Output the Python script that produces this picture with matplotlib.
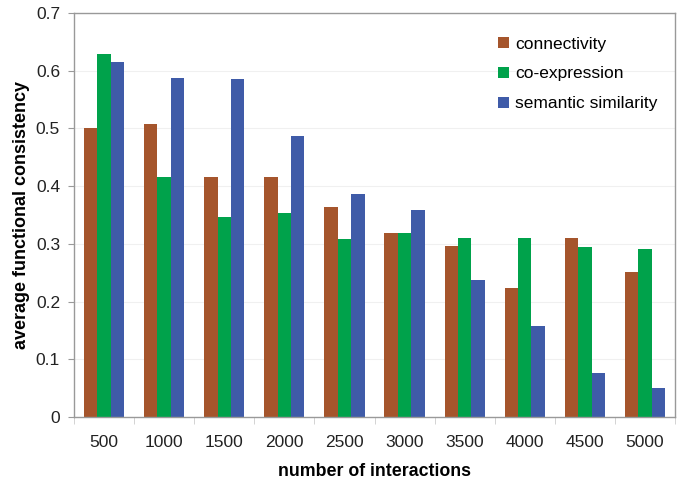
import numpy as np
import matplotlib.pyplot as plt

plt.rcParams['font.family'] = ['Liberation Sans', 'DejaVu Sans']

interactions = ['500', '1000', '1500', '2000', '2500', '3000', '3500', '4000', '4500', '5000']
connectivity = [0.501, 0.508, 0.416, 0.416, 0.363, 0.318, 0.297, 0.223, 0.311, 0.251]
coexpression = [0.629, 0.416, 0.347, 0.354, 0.308, 0.318, 0.311, 0.311, 0.294, 0.291]
semantic = [0.615, 0.587, 0.585, 0.487, 0.387, 0.358, 0.237, 0.158, 0.077, 0.051]

series = [('connectivity', connectivity, '#A5552C'),
          ('co-expression', coexpression, '#00A24B'),
          ('semantic similarity', semantic, '#3F5BA8')]

fig = plt.figure(figsize=(6.85, 4.88), dpi=100)
ax = fig.add_axes([74 / 685, 1 - 417 / 488, 601 / 685, 404 / 488])

x = np.arange(len(interactions))
w = 0.223
for i, (name, vals, col) in enumerate(series):
    ax.bar(x + (i - 1) * w, vals, w, color=col, label=name, zorder=2)

ax.set_xlim(-0.5, len(interactions) - 0.5)
ax.set_ylim(0, 0.7)
ax.set_yticks(np.arange(0, 0.71, 0.1))
ax.set_yticklabels(['0', '0.1', '0.2', '0.3', '0.4', '0.5', '0.6', '0.7'])
ax.set_xticks(x)
ax.set_xticklabels(interactions)
ax.set_xticks(np.arange(-0.5, len(interactions), 1), minor=True)
ax.tick_params(axis='x', which='major', length=0, pad=13, labelsize=12.5, colors='#222222')
ax.tick_params(axis='x', which='minor', length=5, color='#cccccc')
ax.tick_params(axis='y', length=4, pad=6, labelsize=12.5, color='#999999', labelcolor='#222222')

ax.grid(axis='y', color='#f0f0f0', linewidth=0.8, zorder=0)
for s in ax.spines.values():
    s.set_color('#999999')
    s.set_linewidth(1.0)

ax.set_xlabel('number of interactions', fontsize=12.8, fontweight='bold', labelpad=9)
ax.set_ylabel('average functional consistency', fontsize=13, fontweight='bold', labelpad=4)

ax.legend(loc='upper left', bbox_to_anchor=(0.68, 0.98), frameon=False, fontsize=12.5,
          handlelength=0.6, handleheight=0.6, handletextpad=0.35, labelspacing=0.85)

plt.savefig('out.png', dpi=100)
